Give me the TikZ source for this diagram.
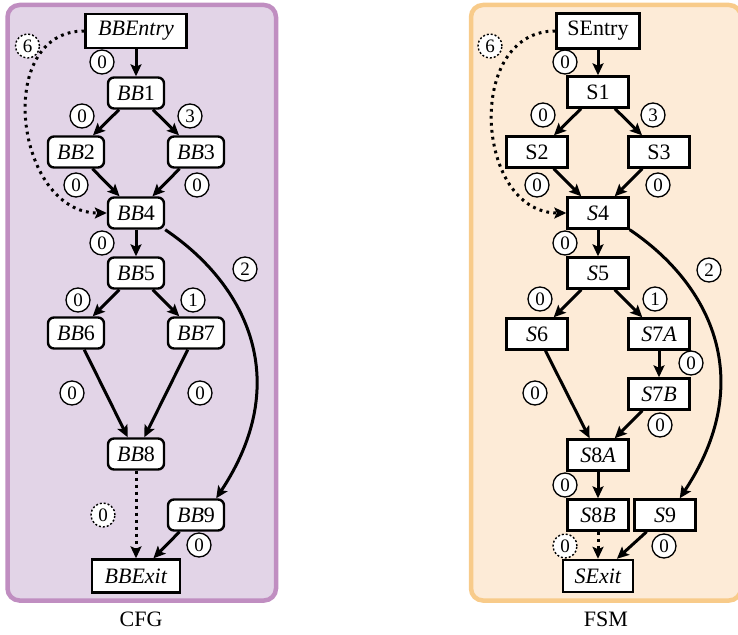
\documentclass[tikz,border=0pt]{standalone}
\usepackage{fontspec}
\setmainfont{Liberation Serif}
\usetikzlibrary{arrows.meta}
\definecolor{cfgfill}{HTML}{E2D4E7}
\definecolor{cfgline}{HTML}{C08EC1}
\definecolor{fsmfill}{HTML}{FDEBD7}
\definecolor{fsmline}{HTML}{F8CB8A}
\newcommand{\vn}[1]{\textit{#1}}
\begin{document}
\begin{tikzpicture}[x=1pt,y=-1pt,
  font=\fontsize{22}{26}\selectfont,
  block/.style={draw, fill=white, line width=2.4pt, rounded corners=6pt,
    minimum height=31pt, minimum width=56pt, inner sep=1pt},
  term/.style={draw, fill=white, line width=2.4pt, inner sep=1pt},
  state/.style={draw, fill=white, line width=2.4pt,
    minimum height=31pt, minimum width=61pt, inner sep=1pt},
  flow/.style={line width=3pt, -{Stealth[length=12pt,width=11pt,inset=2.5pt]}},
  back/.style={flow, dash pattern=on 2.8pt off 4.2pt},
  lab/.style={circle, draw, fill=white, line width=1.3pt, minimum size=24pt,
    inner sep=0pt, font=\fontsize{19}{21}\selectfont},
  ghost/.style={lab, line width=1.4pt, dash pattern=on 2pt off 2pt},
  frame/.style={line width=4.5pt, rounded corners=12pt},
]
\useasboundingbox (0,0) rectangle (738,634);

% panel backgrounds
\draw[frame, draw=cfgline, fill=cfgfill] (7.5,5) rectangle (276,600.5);
\draw[frame, draw=fsmline, fill=fsmfill] (471,5) rectangle (741,600.5);

% ---------------- control flow graph ----------------
\node[term, minimum width=101pt, minimum height=34pt] (BBEntry) at (136,31) {\vn{BBEntry}};
\node[block] (BB1) at (136,93) {\vn{BB}1};
\node[block] (BB2) at (76,152) {\vn{BB}2};
\node[block] (BB3) at (196,152) {\vn{BB}3};
\node[block] (BB4) at (136,213) {\vn{BB}4};
\node[block] (BB5) at (136,273) {\vn{BB}5};
\node[block] (BB6) at (76,333) {\vn{BB}6};
\node[block] (BB7) at (196,333) {\vn{BB}7};
\node[block] (BB8) at (136,454) {\vn{BB}8};
\node[block] (BB9) at (196,515) {\vn{BB}9};
\node[term, minimum width=88pt, minimum height=33pt] (BBExit) at (136,576) {\vn{BBExit}};

\draw[flow] (BBEntry) -- (BB1);
\draw[flow] (BB1) -- (BB2);
\draw[flow] (BB1) -- (BB3);
\draw[flow] (BB2) -- (BB4);
\draw[flow] (BB3) -- (BB4);
\draw[flow] (BB4) -- (BB5);
\draw[flow] (BB5) -- (BB6);
\draw[flow] (BB5) -- (BB7);
\draw[flow] (BB6) -- (BB8);
\draw[flow] (BB7) -- (BB8);
\draw[flow] (BB9) -- (BBExit);
\draw[flow] (BB4.south east) .. controls +(83,56) and +(77,-116) .. ([xshift=-9pt]BB9.north east);
\draw[back] (BB8) -- (BBExit);
\draw[back] (BBEntry.west) to[out=180, in=180, looseness=1.28] (BB4.west);

\node[ghost] (c6) at (27.5,46) {6};
\node[lab] (c0a) at (102,62) {0};
\node[lab] (c0b) at (82,116) {0};
\node[lab] (c3) at (190,116) {3};
\node[lab] (c0c) at (76,185) {0};
\node[lab] (c0d) at (197,185) {0};
\node[lab] (c0e) at (102,243) {0};
\node[lab] (c2) at (245,269) {2};
\node[lab] (c0f) at (78,300) {0};
\node[lab] (c1) at (193,300) {1};
\node[lab] (c0g) at (72,393) {0};
\node[lab] (c0h) at (200,393) {0};
\node[ghost] (c0i) at (103,515) {0};
\node[lab] (c0j) at (199,545) {0};

\node (cfgcap) at (141,619) {CFG};

% ---------------- finite state machine ----------------
\node[term, minimum width=83pt, minimum height=35pt] (SEntry) at (598,31) {SEntry};
\node[state] (S1) at (598,92) {S1};
\node[state] (S2) at (537,152) {S2};
\node[state] (S3) at (659,152) {S3};
\node[state] (S4) at (598,213) {\vn{S}4};
\node[state] (S5) at (598,273) {\vn{S}5};
\node[state] (S6) at (537,334) {\vn{S}6};
\node[state] (S7A) at (659,334) {\vn{S}7\vn{A}};
\node[state] (S7B) at (659,394) {\vn{S}7\vn{B}};
\node[state] (S8A) at (598,455) {\vn{S}8\vn{A}};
\node[state] (S8B) at (598,515) {\vn{S}8\vn{B}};
\node[state] (S9) at (665,515) {\vn{S}9};
\node[term, minimum width=70pt, minimum height=32pt] (SExit) at (598,576) {\vn{SExit}};

\draw[flow] (SEntry) -- (S1);
\draw[flow] (S1) -- (S2);
\draw[flow] (S1) -- (S3);
\draw[flow] (S2) -- (S4);
\draw[flow] (S3) -- (S4);
\draw[flow] (S4) -- (S5);
\draw[flow] (S5) -- (S6);
\draw[flow] (S5) -- (S7A);
\draw[flow] (S7A) -- (S7B);
\draw[flow] (S6) -- (S8A);
\draw[flow] (S7B) -- (S8A);
\draw[flow] (S8A) -- (S8B);
\draw[flow] (S9) -- (SExit);
\draw[flow] (S4.south east) .. controls +(83,56) and +(77,-116) .. ([xshift=-17pt]S9.north east);
\draw[back] (S8B) -- (SExit);
\draw[back] (SEntry.west) to[out=180, in=180, looseness=1.28] (S4.west);

\node[ghost] (d6) at (490,46) {6};
\node[lab] (d0a) at (565,62) {0};
\node[lab] (d0b) at (543,115) {0};
\node[lab] (d3) at (653,115) {3};
\node[lab] (d0c) at (537,185) {0};
\node[lab] (d0d) at (658,185) {0};
\node[lab] (d0e) at (565,243) {0};
\node[lab] (d2) at (709,270) {2};
\node[lab] (d0f) at (540,299) {0};
\node[lab] (d1) at (655,299) {1};
\node[lab] (d0g) at (691,363) {0};
\node[lab] (d0h) at (535,393) {0};
\node[lab] (d0i) at (660,425) {0};
\node[lab] (d0j) at (565,485) {0};
\node[ghost] (d0k) at (565,546) {0};
\node[lab] (d0l) at (664,546) {0};

\node (fsmcap) at (606,619) {FSM};
\end{tikzpicture}
\end{document}
